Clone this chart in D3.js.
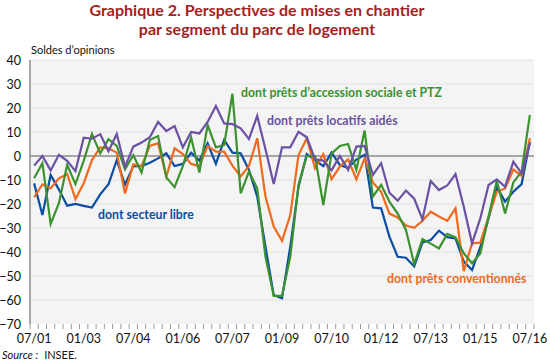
<!DOCTYPE html>
<html>
<head>
<meta charset="utf-8">
<script src="https://cdn.jsdelivr.net/npm/d3@7"></script>
<style>
  body { margin: 0; background: #fff; }
  svg { display: block; font-family: "Lato", sans-serif; }
</style>
</head>
<body>
<div id="graph"></div>
<script>
// quarters, 07/01 .. 07/16
const quarters = [
  "07/01", "10/01", "01/02", "04/02", "07/02", "10/02", "01/03", "04/03", "07/03", "10/03",
  "01/04", "04/04", "07/04", "10/04", "01/05", "04/05", "07/05", "10/05", "01/06", "04/06",
  "07/06", "10/06", "01/07", "04/07", "07/07", "10/07", "01/08", "04/08", "07/08", "10/08",
  "01/09", "04/09", "07/09", "10/09", "01/10", "04/10", "07/10", "10/10", "01/11", "04/11",
  "07/11", "10/11", "01/12", "04/12", "07/12", "10/12", "01/13", "04/13", "07/13", "10/13",
  "01/14", "04/14", "07/14", "10/14", "01/15", "04/15", "07/15", "10/15", "01/16", "04/16",
  "07/16"
];
const tickLabels = ["07/01", "01/03", "07/04", "01/06", "07/07", "01/09", "07/10", "01/12", "07/13", "01/15", "07/16"];
const yTicks = [40, 30, 20, 10, 0, -10, -20, -30, -40, -50, -60, -70];

const secteurLibre = [
  -11.4, -24.6, -7.9, -14, -20.7, -20, -20.8, -21.5, -16, -11.8,
  -1.7, -12, -4.2, -4.2, -2.8, -1, 1.1, -4.2, -3.3, 1.4,
  -1.9, 5.3, -3.3, 6.7, 1.4, 1.1, -5.8, -16.9, -37.8, -58,
  -59.3, -37.8, -12.8, 0.8, -1.7, -4.2, 1.4, -3.8, -5, -1.5,
  0.5, -21.5, -21.8, -33.6, -42, -42.4, -46, -36, -35, -31.1,
  -33.8, -34.3, -44, -47.5, -38, -26, -13, -19, -14.9, -11.7,
  6
];
const pretsConventionnes = [
  -17.2, -11.8, -13.5, -9.3, -7.5, -18, -11.4, -1.7, 3.6, 3.2,
  1.4, -15.6, -3.5, -4.2, 4.2, 5.3, -8.6, 3.2, 0.8, -3.3,
  -4.2, 4.2, 1.8, 1.8, -4, -8.5, -4.2, 7.4, -16.9, -29.4,
  -35.3, -24.6, 0.4, 7.4, -5.1, 0.8, -9.7, -4.4, -1.4, -9.7,
  -1, -11, -14.9, -24, -25.6, -29, -29.9, -27, -23.2, -25.2,
  -27, -21.8, -48, -36.4, -36.1, -25.3, -14.9, -13.5, -5.6, -8.3,
  7.4
];
const accessionPtz = [
  -9.3, -3, -28.3, -19.7, -3.7, -11.7, -2, 9.2, 1.1, 7,
  4.2, -5.6, 0.4, -6.9, 6.7, 8.3, -8.9, -13, -4.2, 7.8,
  -6.9, 12.9, 3.6, 4.6, 26, -15.6, -6.5, -13.5, -42, -58.3,
  -58.3, -42, -12, 0, 0, -20.4, 1, 4.2, 5, -5.8,
  10.6, -16.9, -12, -19, -24, -30.8, -45, -34.6, -36.5, -38.5,
  -32.5, -33.9, -40.5, -44.7, -40.6, -25.3, -10.3, -24, -11, -6.5,
  17.1
];
const locatifsAides = [
  -4, 0, -6, 0.5, -2, -6.3, 7.6, 7.2, 9.1, 2,
  9.2, -4.5, 3.9, 5.6, 7.8, 14.2, 10.4, 12.5, 3.6, 10,
  9.4, 14.2, 20.8, 13.6, 13.3, 11.5, 7.1, 16.7, 2.8, -11.7,
  3.6, 3.6, 10.1, 7.8, -1.4, -1.9, -6, 0, -5.8, 3.9,
  4.2, -7.9, -3, -15.3, -18.6, -14.4, -17.8, -26.4, -10.4, -14.2,
  -12.3, -7.5, -21.1, -36.4, -26, -12.1, -9.7, -12.8, -2.4, -7.2,
  5.3
];

const width = 550;
const height = 363;
const margin = { left: 30, right: 16, top: 60, bottom: 39 };

const red = "#a41e22";
const blue = "#0b4da2";
const orange = "#f06a1d";
const green = "#3b922f";
const purple = "#6a51a3";

const series = [
  { name: "dont secteur libre", values: secteurLibre, color: blue, lx: 98, ly: 219 },
  { name: "dont prêts conventionnés", values: pretsConventionnes, color: orange, lx: 387, ly: 283 },
  { name: "dont prêts d’accession sociale et PTZ", values: accessionPtz, color: green, lx: 241, ly: 97 },
  { name: "dont prêts locatifs aidés", values: locatifsAides, color: purple, lx: 267, ly: 125 }
];

let svg = d3.select('#graph')
  .append('svg')
  .attr('width', width)
  .attr('height', height);

let xScale = d3.scaleBand()
  .domain(quarters)
  .range([margin.left, width - margin.right]);

let yScale = d3.scaleLinear()
  .domain([-70, 40])
  .range([height - margin.bottom, margin.top]);

// title
let title = svg.append('g').attr('class', 'title')
  .attr('fill', red)
  .attr('font-weight', 'bold')
  .attr('font-size', 16)
  .attr('text-anchor', 'middle');
title.append('text').attr('x', 257).attr('y', 16).text('Graphique 2. Perspectives de mises en chantier');
title.append('text').attr('x', 257).attr('y', 35).text('par segment du parc de logement');

// panel
svg.append('rect')
  .attr('x', margin.left)
  .attr('y', margin.top)
  .attr('width', width - margin.left - margin.right)
  .attr('height', height - margin.top - margin.bottom)
  .attr('fill', '#f4f4f4');

// grid
svg.append('g').attr('class', 'grid')
  .selectAll('line')
  .data(yTicks.filter(d => d !== 0 && d !== -70))
  .enter()
  .append('line')
  .attr('x1', margin.left)
  .attr('x2', width - margin.right)
  .attr('y1', d => yScale(d))
  .attr('y2', d => yScale(d))
  .attr('stroke', '#e2e2e2')
  .attr('stroke-width', 1);

// y axis
let yAxis = d3.axisLeft(yScale)
  .tickValues(yTicks)
  .tickSize(0)
  .tickPadding(9);
let yg = svg.append('g')
  .attr('transform', `translate(${margin.left}, 0)`)
  .call(yAxis);
yg.select('.domain').remove();
yg.selectAll('text')
  .style('font-size', '12.5px')
  .style('font-family', '"Lato", sans-serif')
  .attr('fill', '#111');

svg.append('line')
  .attr('x1', margin.left).attr('x2', margin.left)
  .attr('y1', margin.top).attr('y2', height - margin.bottom)
  .attr('stroke', '#8c8c8c').attr('stroke-width', 1.5);

// zero line
svg.append('line')
  .attr('x1', margin.left).attr('x2', width - margin.right)
  .attr('y1', yScale(0)).attr('y2', yScale(0))
  .attr('stroke', '#8c8c8c').attr('stroke-width', 1.5);

// x tick marks between quarters
let edges = quarters.map(q => xScale(q)).concat([xScale.range()[1]]);
svg.append('g').attr('class', 'x-ticks')
  .selectAll('line')
  .data(edges)
  .enter()
  .append('line')
  .attr('x1', d => d).attr('x2', d => d)
  .attr('y1', height - margin.bottom)
  .attr('y2', height - margin.bottom + 5)
  .attr('stroke', '#9a9a9a');

// x labels
let xAxis = d3.axisBottom(xScale)
  .tickValues(tickLabels)
  .tickSize(0)
  .tickPadding(10);
let xg = svg.append('g')
  .attr('transform', `translate(0, ${height - margin.bottom})`)
  .call(xAxis);
xg.select('.domain').remove();
xg.selectAll('text')
  .style('font-size', '12.5px')
  .style('font-family', '"Lato", sans-serif')
  .attr('fill', '#111');

// y title
svg.append('text')
  .attr('x', 31)
  .attr('y', 54)
  .attr('font-size', 11)
  .attr('fill', '#111')
  .text('Soldes d’opinions');

// lines
let line = d3.line()
  .x((d, i) => xScale(quarters[i]) + xScale.bandwidth() / 2)
  .y(d => yScale(d));

let lineChart = svg.append('g').attr('class', 'line-chart');
series.forEach(s => {
  lineChart.append('path')
    .datum(s.values)
    .attr('fill', 'none')
    .attr('stroke', s.color)
    .attr('stroke-width', 2.2)
    .attr('stroke-linejoin', 'miter')
    .attr('d', line);
});

// series labels
svg.append('g').attr('class', 'labels')
  .selectAll('text')
  .data(series)
  .enter()
  .append('text')
  .attr('x', d => d.lx)
  .attr('y', d => d.ly)
  .attr('fill', d => d.color)
  .attr('font-weight', 'bold')
  .attr('font-size', 12.3)
  .text(d => d.name);

// source
let source = svg.append('text')
  .attr('x', 2)
  .attr('y', 359)
  .attr('font-size', 11)
  .attr('fill', '#111');
source.append('tspan').attr('font-style', 'italic').text('Source :');
source.append('tspan').attr('dx', 6).text('INSEE.');
</script>
</body>
</html>
